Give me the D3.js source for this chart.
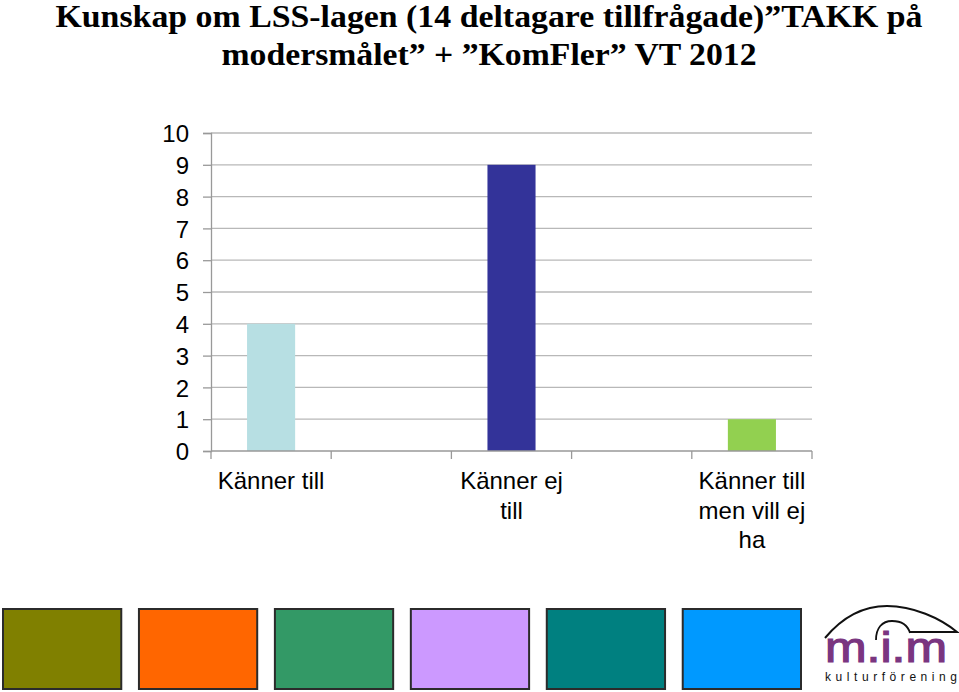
<!DOCTYPE html>
<html><head><meta charset="utf-8">
<script src="https://cdn.jsdelivr.net/npm/d3@7"></script>
<style>body{margin:0;background:#fff}svg{display:block}</style>
</head><body>
<script>
const titleLines = ["Kunskap om LSS-lagen (14 deltagare tillfrågade)”TAKK på", "modersmålet” + ”KomFler” VT 2012"];
const categories = [["Känner till"], ["Känner ej", "till"], ["Känner till", "men vill ej", "ha"]];
const values = [4, 9, 1];
const barColors = ["#b7dfe3", "#333399", "#92d050"];
const yTicks = [0,1,2,3,4,5,6,7,8,9,10];
const swatchColors = ["#808000", "#ff6600", "#339966", "#cc99ff", "#008080", "#0099ff"];

(function(){
const W = 959, H = 692;
const svg = d3.select("body").append("svg").attr("width", W).attr("height", H);

// Title
const tl = [{t: titleLines[0], y: 27, len: 867}, {t: titleLines[1], y: 65, len: 535}];
svg.selectAll("text.title").data(tl).join("text")
  .attr("x", 489).attr("y", d => d.y)
  .attr("text-anchor", "middle")
  .attr("font-family", "Liberation Serif, Times New Roman, serif")
  .attr("font-weight", "bold").attr("font-size", 32)
  .attr("textLength", d => d.len).attr("lengthAdjust", "spacingAndGlyphs")
  .text(d => d.t);

// Scales
const pL = 211, pR = 812, pT = 133, pB = 451;
const y = d3.scaleLinear().domain([0, 10]).range([pB, pT]);
const slots = d3.range(categories.length * 2 - 1);
const x = d3.scaleBand().domain(slots).range([pL, pR]).padding(0);
const slotOf = i => i * 2;
const barW = x.bandwidth() * 0.4;

// Gridlines
svg.append("g").selectAll("line").data(yTicks.filter(v => v > 0)).join("line")
  .attr("x1", pL).attr("x2", pR)
  .attr("y1", d => y(d)).attr("y2", d => y(d))
  .attr("stroke", "#b8b8b8").attr("stroke-width", 1.3);

// Y axis
const yAxis = d3.axisLeft(y).tickValues(yTicks).tickSize(8).tickPadding(14);
const gy = svg.append("g").attr("transform", `translate(${pL},0)`).call(yAxis);
gy.select(".domain").attr("stroke", "#999").attr("stroke-width", 1.3);
gy.selectAll(".tick line").attr("stroke", "#999").attr("stroke-width", 1.3);
gy.selectAll(".tick text").attr("font-family", "Liberation Sans, Arial, sans-serif")
  .attr("font-size", 24).attr("fill", "#000").attr("dy", "0.36em");

// Bars
svg.append("g").selectAll("rect").data(values).join("rect")
  .attr("x", (d, i) => x(slotOf(i)) + (x.bandwidth() - barW) / 2)
  .attr("width", barW)
  .attr("y", d => y(d)).attr("height", d => y(0) - y(d))
  .attr("fill", (d, i) => barColors[i]);

// X axis
const gx = svg.append("g");
gx.append("line").attr("x1", pL).attr("x2", pR).attr("y1", pB).attr("y2", pB)
  .attr("stroke", "#999").attr("stroke-width", 1.3);
const bounds = slots.map(s => x(s)).concat([pR]);
gx.selectAll("line.tk").data(bounds).join("line").attr("class", "tk")
  .attr("x1", d => d).attr("x2", d => d).attr("y1", pB).attr("y2", pB + 8)
  .attr("stroke", "#999").attr("stroke-width", 1.3);
categories.forEach((lines, i) => {
  const cx = x(slotOf(i)) + x.bandwidth() / 2;
  gx.append("text").attr("text-anchor", "middle")
    .attr("font-family", "Liberation Sans, Arial, sans-serif").attr("font-size", 24)
    .selectAll("tspan").data(lines).join("tspan")
    .attr("x", cx).attr("y", (d, j) => 489 + j * 29.5).text(d => d);
});

// Bottom swatches
const sx = d3.scaleBand().domain(d3.range(swatchColors.length)).range([3, 801]).paddingInner(0.13);
svg.append("g").selectAll("rect").data(swatchColors).join("rect")
  .attr("x", (d, i) => sx(i)).attr("y", 609).attr("width", sx.bandwidth()).attr("height", 80)
  .attr("fill", d => d).attr("stroke", "#2b2b2b").attr("stroke-width", 2);

// Logo
const logo = svg.append("g");
logo.append("path")
  .attr("d", "M825,638 C845,614 866,606 887,606 C913,606 940,618 957,632 L909,632")
  .attr("fill", "none").attr("stroke", "#111").attr("stroke-width", 2);
logo.append("path")
  .attr("d", "M876,640 C876,628 882,621 892,621 C902,621 908,626 910,633")
  .attr("fill", "none").attr("stroke", "#111").attr("stroke-width", 1.8);
logo.append("text").attr("x", 886).attr("y", 662).attr("text-anchor", "middle")
  .attr("font-family", "Liberation Sans, Arial, sans-serif").attr("font-size", 42)
  .attr("fill", "#7a3580").attr("stroke", "#7a3580").attr("stroke-width", 1.2)
  .attr("textLength", 122).attr("lengthAdjust", "spacingAndGlyphs")
  .text("m.i.m");
logo.append("text").attr("x", 825).attr("y", 681)
  .attr("font-family", "Liberation Sans, Arial, sans-serif").attr("font-size", 12)
  .attr("fill", "#111").attr("textLength", 132).attr("lengthAdjust", "spacing")
  .text("kulturförening");
})();
</script>
</body></html>
